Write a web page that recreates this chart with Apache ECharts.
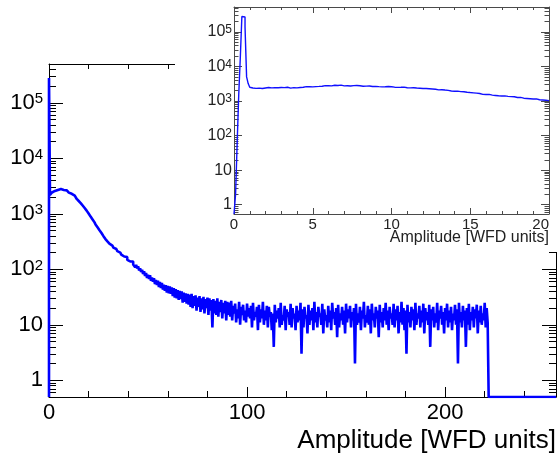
<!DOCTYPE html>
<html><head><meta charset="utf-8">
<script src="https://cdn.jsdelivr.net/npm/echarts@6/dist/echarts.min.js"></script>
<style>html,body{margin:0;padding:0;background:#fff}#c{width:558px;height:459px}</style>
</head><body><div id="c"></div>
<script>
// ---------- data ----------
const xTitle = 'Amplitude [WFD units]';

// main histogram: 0.5-unit bins starting at 0 (bins not listed are empty)
const mainBinWidth = 0.5;
const mainXRange = [0, 256];
const mainYRange = [0.5, 5e5];
const mainCounts = [
  280000, 2200, 2330, 2420, 2500, 2580, 2640, 2700, 2690, 2760, 2740, 2790, 2720, 2770, 2680, 2720, 2610, 2640, 2530, 2540,
  2410, 2450, 2290, 2300, 2160, 2120, 2000, 1960, 1850, 1790, 1700, 1640, 1560, 1480, 1410, 1330, 1270, 1190, 1140, 1060,
  1010, 950,
  890, 830, 790, 735, 700, 640, 615, 570, 545, 505, 480, 450, 430, 395, 385, 350, 345, 318, 322, 290,
  298, 268, 272, 246, 255, 232, 236, 212, 220, 200, 205, 184, 192, 170, 178, 160, 166, 148, 156, 139,
  150, 128, 138, 122, 131, 109, 120, 104, 113, 95, 104, 90, 98, 82, 92, 76, 86, 70, 80, 67,
  78, 62, 71, 60, 69, 54, 64, 52, 62, 48, 59, 46, 57, 43, 53, 41, 52, 38, 50, 37,
  49, 36, 47, 33, 46, 31, 44, 30, 42, 28, 41, 29, 40, 25, 38, 26, 37, 24, 36, 23,
  35, 21, 36, 20, 33, 22, 34, 18, 31, 21, 33, 17, 30, 19, 32, 16, 29, 20, 31, 15,
  30, 18, 28, 9, 29, 16, 27, 15, 30, 14, 26, 17, 28, 13, 25, 16, 27, 12, 26, 15,
  25, 14, 27, 12, 22, 16, 24, 11, 19, 13, 26, 10, 21, 15, 23, 12, 18, 11, 24, 14,
  20, 13, 22, 9, 25, 12, 17, 14, 21, 8, 23, 11, 19, 13, 26, 10, 18, 12, 22, 9,
  21, 14, 17, 8, 16, 4, 23, 11, 18, 13, 20, 9, 25, 10, 15, 12, 22, 8, 19, 14,
  17, 10, 24, 9, 20, 13, 16, 8, 22, 11, 18, 12, 25, 3, 19, 9, 21, 13, 15, 7,
  23, 10, 18, 12, 20, 8, 26, 11, 17, 9, 21, 14, 16, 10, 24, 7, 19, 12, 15, 9,
  22, 11, 18, 8, 25, 13, 17, 10, 20, 6, 23, 9, 16, 12, 21, 10, 18, 7, 24, 11,
  19, 13, 22, 9, 17, 12, 20, 2, 24, 10, 16, 11, 21, 8, 18, 13, 26, 9, 15, 11,
  22, 10, 19, 7, 24, 12, 16, 9, 21, 13, 18, 6, 23, 11, 17, 9, 20, 12, 25, 10,
  18, 8, 21, 13, 16, 10, 24, 9, 19, 12, 22, 7, 17, 11, 26, 10, 20, 8, 18, 3,
  23, 11, 17, 9, 21, 12, 19, 8, 25, 10, 16, 13, 22, 9, 18, 11, 24, 7, 20, 12,
  17, 10, 23, 4, 19, 12, 21, 9, 16, 11, 25, 8, 18, 13, 22, 10, 17, 7, 20, 12,
  24, 9, 18, 11, 21, 8, 16, 12, 23, 10, 19, 2, 25, 11, 17, 9, 22, 12, 18, 4,
  20, 10, 24, 8, 17, 12, 21, 9, 19, 13, 23, 7, 18, 11, 22, 10, 16, 12, 25, 9, 20, 11
];

// inset histogram: 0.1-unit bins from 0 to 20
const insetBinWidth = 0.1;
const insetXRange = [0, 20];
const insetYRange = [0.54, 5.26e5];
const insetCounts = [
  0, 2, 60, 1500, 18000, 280000, 270000, 140000, 5000, 3200,
  2500, 2380, 2450, 2320, 2410, 2360, 2470, 2300, 2420, 2390,
  2350, 2460, 2330, 2400, 2290, 2440, 2370, 2420, 2310, 2460,
  2390, 2450, 2380, 2500, 2420, 2360, 2490, 2440, 2520, 2410,
  2530, 2470, 2580, 2500, 2560, 2620, 2510, 2600, 2640, 2570,
  2680, 2620, 2710, 2650, 2760, 2690, 2740, 2800, 2700, 2770,
  2820, 2740, 2790, 2860, 2760, 2830, 2780, 2880, 2810, 2750,
  2840, 2770, 2810, 2730, 2850, 2790, 2760, 2820, 2700, 2780,
  2740, 2680, 2760, 2700, 2650, 2730, 2690, 2640, 2710, 2660,
  2690, 2610, 2650, 2580, 2660, 2600, 2550, 2630, 2570, 2590,
  2560, 2520, 2590, 2480, 2540, 2500, 2450, 2530, 2460, 2420,
  2440, 2400, 2360, 2420, 2330, 2380, 2300, 2350, 2290, 2310,
  2260, 2300, 2220, 2270, 2190, 2240, 2160, 2200, 2140, 2110,
  2090, 2130, 2050, 2080, 2010, 2040, 1980, 1950, 1990, 1920,
  1900, 1940, 1860, 1880, 1820, 1850, 1780, 1800, 1740, 1760,
  1700, 1730, 1670, 1690, 1630, 1650, 1600, 1560, 1590, 1540,
  1530, 1560, 1500, 1480, 1510, 1450, 1470, 1420, 1440, 1400,
  1380, 1410, 1350, 1370, 1320, 1340, 1300, 1330, 1280, 1270,
  1250, 1280, 1230, 1210, 1240, 1190, 1200, 1170, 1180, 1150,
  1130, 1160, 1110, 1090, 1120, 1070, 1080, 1050, 1060, 1030
];

// tick labels / tick positions
const mainXLabels = [0, 100, 200];
const mainXMinor = [20, 40, 60, 80, 120, 140, 160, 180, 220, 240];
const insetXLabels = [0, 5, 10, 15, 20];
const insetXMinor = [1, 2, 3, 4, 6, 7, 8, 9, 11, 12, 13, 14, 16, 17, 18, 19];
const yDecades = [1, 10, 100, 1000, 10000, 100000];
const minorMultipliers = [2, 3, 4, 5, 6, 7, 8, 9];

// ---------- build ----------
const FONT = '"Liberation Sans", Arial, Helvetica, sans-serif';
function logMinor(r) {
  const out = [];
  for (let e = -1; e <= 5; e++) for (const m of minorMultipliers) {
    const v = m * Math.pow(10, e);
    if (v > r[0] * 1.0001 && v < r[1] * 0.9999) out.push(v);
  }
  return out;
}
function histPoints(counts, w, nBins, floor) {
  const pts = [[0, floor]];
  let last = floor;
  for (let i = 0; i < nBins; i++) {
    const c = counts[i] || 0;
    last = c > 0 ? c : floor;
    pts.push([+(i * w).toFixed(4), last]);
  }
  pts.push([+(nBins * w).toFixed(4), last]);
  return pts;
}
function powLabel(v) {
  const e = Math.round(Math.log10(v));
  if (e === 0) return '{p|1}';
  if (e === 1) return '{p|10}';
  return '{b|10}{s|' + e + '}';
}
function axisPair(kind, grid, pos, range, major, minor, majLen, minLen, color, z, labelCfg, extra) {
  const base = {
    type: kind, gridIndex: grid, position: pos, min: range[0], max: range[1], z: z,
    splitLine: { show: false }, minorTick: { show: false }, minorSplitLine: { show: false },
    silent: true
  };
  if (kind === 'log') base.logBase = 10;
  const a = Object.assign({}, base, {
    axisLine: { show: true, onZero: false, lineStyle: { color: color, width: 1 } },
    axisTick: { show: true, inside: true, length: majLen, customValues: major, lineStyle: { color: color, width: 1 } },
    axisLabel: labelCfg ? labelCfg : { show: false }
  }, extra || {});
  const b = Object.assign({}, base, {
    axisLine: { show: false, onZero: false },
    axisTick: { show: true, inside: true, length: minLen, customValues: minor, lineStyle: { color: color, width: 1 } },
    axisLabel: { show: false }
  });
  return [a, b];
}

const mainYMinor = logMinor(mainYRange);
const insetYMinor = logMinor(insetYRange);
const mainColor = '#000';
const insetColor = '#4a4a4a';
const insetText = '#222';

const mainXLabelCfg = { show: true, customValues: mainXLabels, margin: 5, fontSize: 22, fontFamily: FONT, color: '#000' };
const insetXLabelCfg = { show: true, customValues: insetXLabels, margin: 3, fontSize: 15, fontFamily: FONT, color: insetText, alignMaxLabel: 'right' };
const mainYLabelCfg = {
  show: true, customValues: yDecades, margin: 6, formatter: powLabel, fontFamily: FONT, color: '#000',
  rich: {
    p: { fontSize: 22, lineHeight: 22, fontFamily: FONT, color: '#000' },
    b: { fontSize: 22, lineHeight: 22, fontFamily: FONT, color: '#000', verticalAlign: 'bottom' },
    s: { fontSize: 15, lineHeight: 15, fontFamily: FONT, color: '#000', verticalAlign: 'top', padding: [0, 0, 10, 0] }
  }
};
const insetYLabelCfg = {
  show: true, customValues: yDecades, margin: 2, formatter: powLabel, fontFamily: FONT, color: insetText,
  rich: {
    p: { fontSize: 16, lineHeight: 16, fontFamily: FONT, color: insetText },
    b: { fontSize: 16, lineHeight: 16, fontFamily: FONT, color: insetText, verticalAlign: 'bottom' },
    s: { fontSize: 12, lineHeight: 12, fontFamily: FONT, color: insetText, verticalAlign: 'top', padding: [0, 0, 6, 0] }
  }
};

const xAxes = [].concat(
  axisPair('value', 0, 'bottom', mainXRange, mainXLabels, mainXMinor, 10, 6, mainColor, 1, mainXLabelCfg, {
    name: xTitle, nameLocation: 'end', nameGap: 0, nameMoveOverlap: false,
    nameTextStyle: { fontSize: 26, fontFamily: FONT, color: '#000', align: 'right', verticalAlign: 'top', padding: [31, 0, 0, 0] }
  }),
  axisPair('value', 0, 'top', mainXRange, mainXLabels, mainXMinor, 6, 5, mainColor, 1, null),
  axisPair('value', 1, 'bottom', insetXRange, insetXLabels, insetXMinor, 6, 3, insetColor, 20, insetXLabelCfg, {
    name: xTitle, nameLocation: 'end', nameGap: 0, nameMoveOverlap: false,
    nameTextStyle: { fontSize: 16, fontFamily: FONT, color: insetText, align: 'right', verticalAlign: 'top', padding: [16, 0, 0, 0] }
  }),
  axisPair('value', 1, 'top', insetXRange, insetXLabels, insetXMinor, 6, 3, insetColor, 20, null)
);
const yAxes = [].concat(
  axisPair('log', 0, 'left', mainYRange, yDecades, mainYMinor, 14, 7, mainColor, 1, mainYLabelCfg),
  axisPair('log', 0, 'right', mainYRange, yDecades, mainYMinor, 14, 7, mainColor, 1, null),
  axisPair('log', 1, 'left', insetYRange, yDecades, insetYMinor, 8, 4.5, insetColor, 20, insetYLabelCfg),
  axisPair('log', 1, 'right', insetYRange, yDecades, insetYMinor, 8, 4.5, insetColor, 20, null)
);

const chart = echarts.init(document.getElementById('c'), null, { renderer: 'canvas', width: 558, height: 459 });
chart.setOption({
  animation: false,
  backgroundColor: '#fff',
  grid: [
    { left: 49, top: 64, width: 507, height: 333, containLabel: false, outerBoundsMode: 'none' },
    { left: 234, top: 7, width: 315, height: 207, containLabel: false, outerBoundsMode: 'none', z: 20 }
  ],
  graphic: { elements: [
    { type: 'rect', left: 175, top: 0, shape: { width: 383, height: 252 }, style: { fill: '#fff' }, z: 10, silent: true }
  ] },
  xAxis: xAxes,
  yAxis: yAxes,
  series: [
    {
      type: 'line', xAxisIndex: 0, yAxisIndex: 0, step: 'end', showSymbol: false, symbol: 'none',
      data: histPoints(mainCounts, mainBinWidth, Math.round((mainXRange[1] - mainXRange[0]) / mainBinWidth), mainYRange[0]),
      lineStyle: { color: '#0000ff', width: 2.6 }, z: 2, silent: true
    },
    {
      type: 'line', xAxisIndex: 4, yAxisIndex: 4, step: 'end', showSymbol: false, symbol: 'none',
      data: histPoints(insetCounts, insetBinWidth, insetCounts.length, insetYRange[0]),
      lineStyle: { color: '#1010ff', width: 1.4 }, z: 21, silent: true
    }
  ]
});
</script>
</body></html>
